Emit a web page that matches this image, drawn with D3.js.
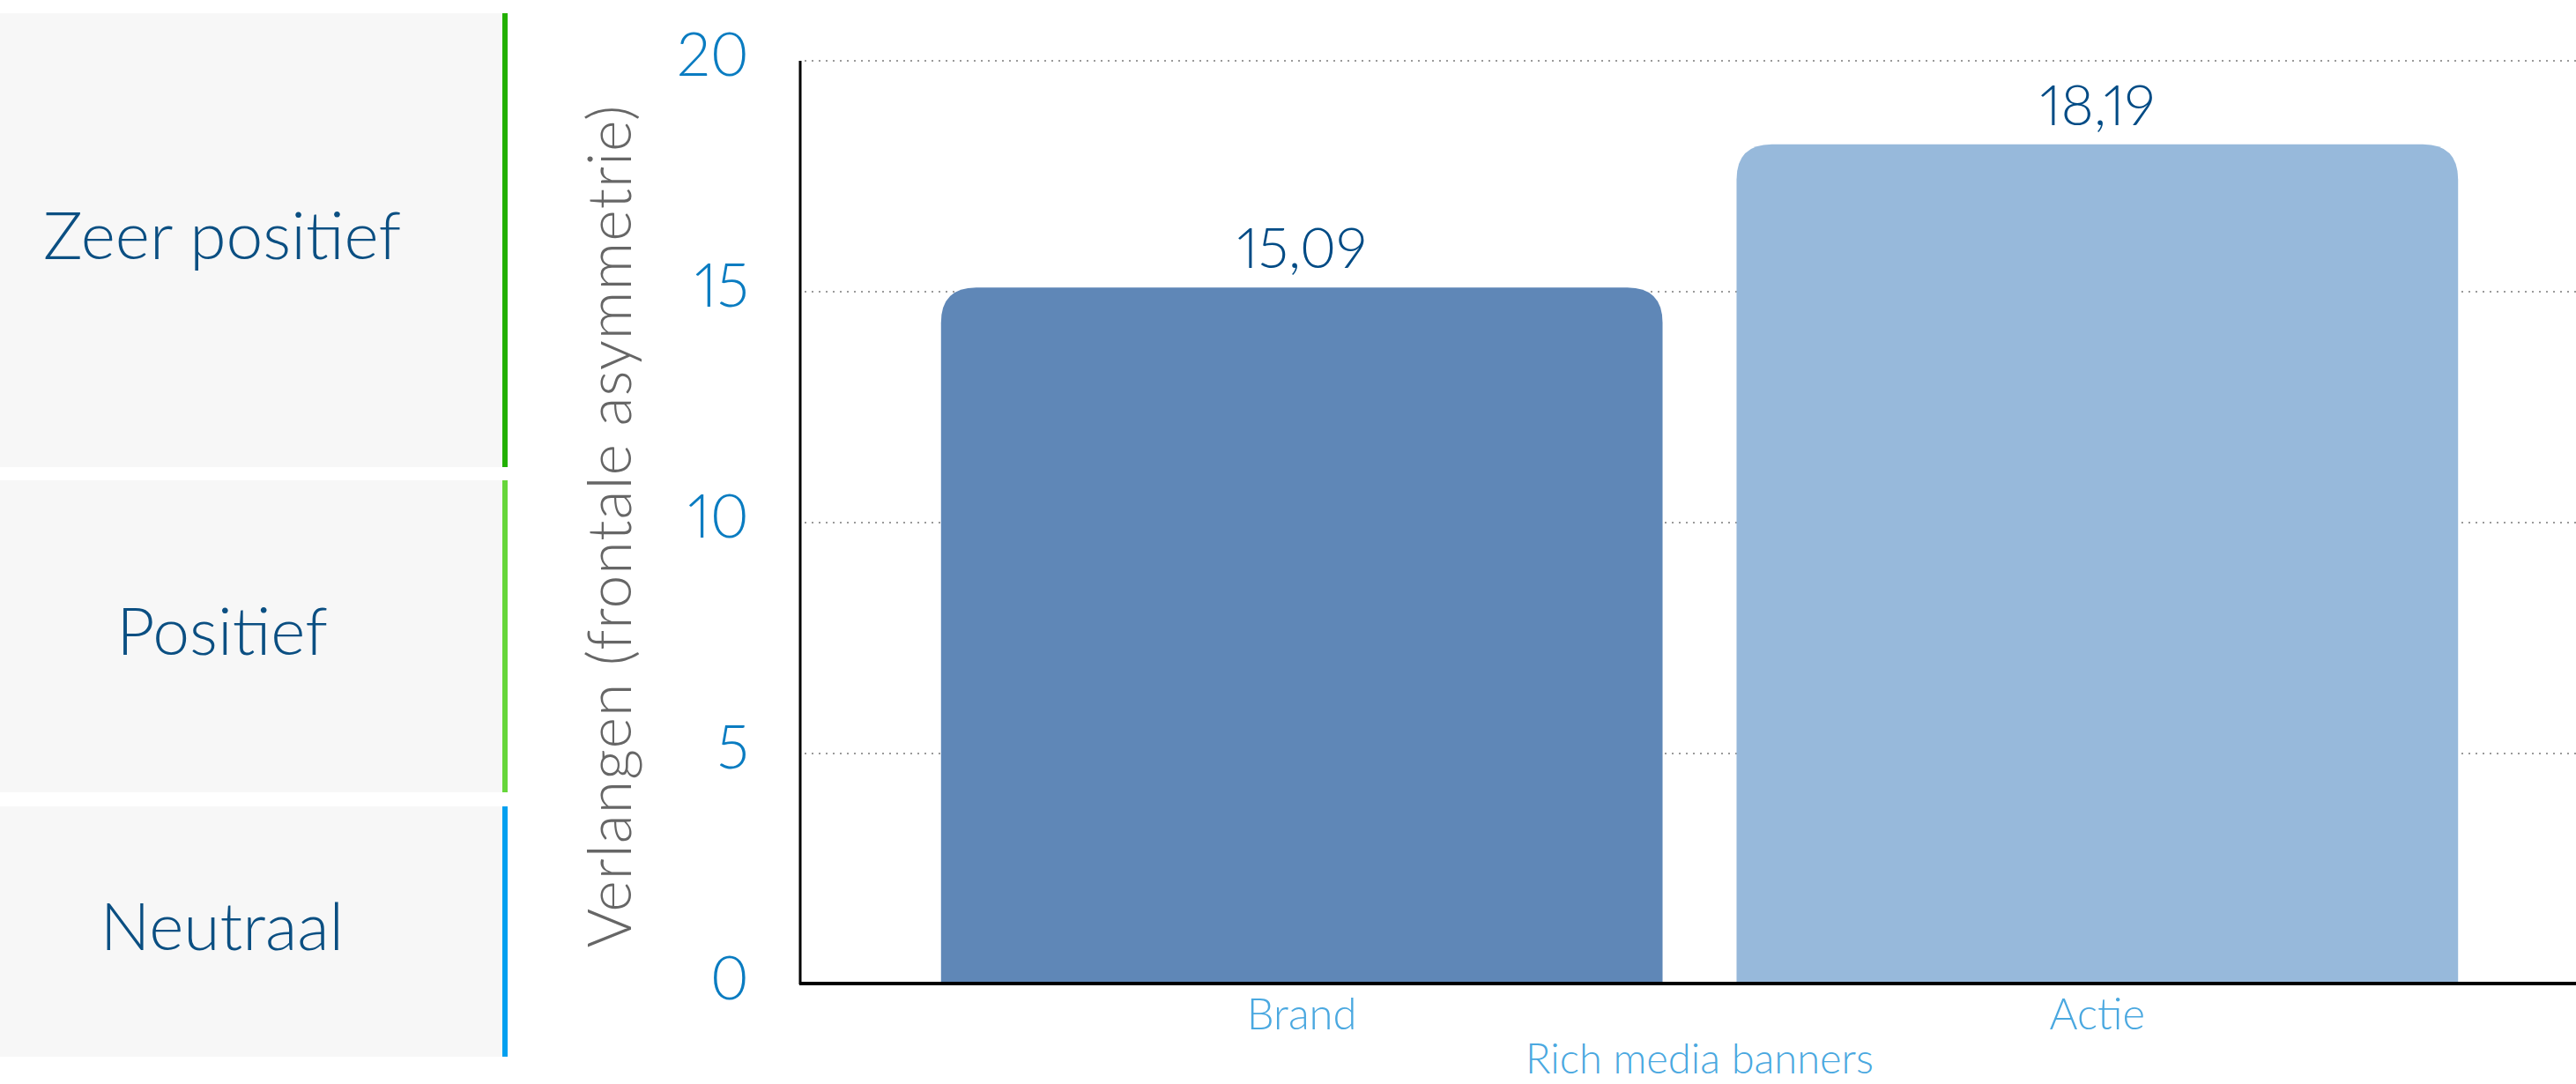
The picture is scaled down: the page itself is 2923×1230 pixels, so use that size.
<!DOCTYPE html>
<html>
<head>
<meta charset="utf-8">
<script src="https://cdn.jsdelivr.net/npm/d3@7"></script>
<style>
  html, body { margin: 0; padding: 0; background: #ffffff; }
  svg { display: block; }
  text { font-family: Lato, "Noto Sans", sans-serif; font-weight: 300; font-variant-numeric: proportional-nums; }
</style>
</head>
<body>
<svg id="chart" width="2923" height="1230"></svg>
<script>
// Data
const categories = ["Brand", "Actie"];
const values = [15.09, 18.19];
const valueLabels = ["15,09", "18,19"];
const yTicks = [0, 5, 10, 15, 20];
const sentimentBands = ["Zeer positief", "Positief", "Neutraal"];

// Layout
const W = 2923, H = 1230;
const plot = { left: 908, right: 2949, top: 69, bottom: 1117 };
const bandBoxes = [[15, 530], [545, 899], [915, 1199]];
const bandLineColors = ["#22b000", "#66d63a", "#00a0f0"];
const barColors = ["#5f87b7", "#97b9db"];

const svg = d3.select("#chart");

// Sentiment panels on the left
const panels = svg.append("g").attr("class", "panels");
sentimentBands.forEach((label, i) => {
  const [y0, y1] = bandBoxes[i];
  panels.append("rect")
    .attr("x", 0).attr("y", y0).attr("width", 570).attr("height", y1 - y0)
    .attr("fill", "#f7f7f7");
  panels.append("rect")
    .attr("x", 570).attr("y", y0).attr("width", 6).attr("height", y1 - y0)
    .attr("fill", bandLineColors[i]);
  panels.append("text")
    .attr("x", 252).attr("y", (y0 + y1) / 2 + 21)
    .attr("text-anchor", "middle")
    .attr("font-size", 75)
    .attr("fill", "#0b4f82")
    .text(label);
});

// Scales
const x = d3.scaleBand()
  .domain(categories)
  .range([plot.left, plot.right])
  .paddingInner(0.093)
  .paddingOuter(0.177);

const y = d3.scaleLinear()
  .domain([0, 20])
  .range([plot.bottom, plot.top]);

// Dotted gridlines
svg.append("g")
  .selectAll("line")
  .data(yTicks)
  .join("line")
  .attr("x1", plot.left + 5).attr("x2", W)
  .attr("y1", d => y(d)).attr("y2", d => y(d))
  .attr("stroke", "#9a9a9a")
  .attr("stroke-width", 2)
  .attr("stroke-dasharray", "2,6");

// Y axis tick labels
const yAxis = d3.axisLeft(y).tickValues(yTicks).tickSize(0).tickPadding(0);
const yg = svg.append("g")
  .attr("transform", `translate(850,0)`)
  .call(yAxis);
yg.select(".domain").remove();
yg.selectAll("text")
  .attr("font-family", "Lato, 'Noto Sans', sans-serif")
  .attr("font-weight", 400)
  .attr("font-size", 68)
  .attr("fill", "#0a7cc1")
  .attr("dy", 16)
  .attr("dominant-baseline", "alphabetic")
  .attr("text-anchor", "end");

// Bars with rounded top corners
const r = 40;
function topRoundedBar(x0, y0, w, h) {
  return `M${x0},${y0 + h}` +
    `L${x0},${y0 + r}` +
    `Q${x0},${y0} ${x0 + r},${y0}` +
    `L${x0 + w - r},${y0}` +
    `Q${x0 + w},${y0} ${x0 + w},${y0 + r}` +
    `L${x0 + w},${y0 + h}Z`;
}

svg.append("g")
  .selectAll("path")
  .data(categories)
  .join("path")
  .attr("d", (c, i) => topRoundedBar(x(c), y(values[i]), x.bandwidth(), y(0) - y(values[i])))
  .attr("fill", (c, i) => barColors[i]);

// Value labels
svg.append("g")
  .selectAll("text")
  .data(categories)
  .join("text")
  .attr("x", c => x(c) + x.bandwidth() / 2)
  .attr("y", (c, i) => y(values[i]) - 22)
  .attr("text-anchor", "middle")
  .attr("font-size", 64)
  .attr("font-weight", 400)
  .attr("fill", "#004b85")
  .text((c, i) => valueLabels[i]);

// Axis lines
svg.append("line")
  .attr("x1", plot.left).attr("x2", plot.left)
  .attr("y1", plot.top).attr("y2", plot.bottom)
  .attr("stroke", "#000").attr("stroke-width", 3);
svg.append("line")
  .attr("x1", plot.left - 1).attr("x2", W)
  .attr("y1", plot.bottom - 1).attr("y2", plot.bottom - 1)
  .attr("stroke", "#000").attr("stroke-width", 4);

// X axis category labels
const xAxis = d3.axisBottom(x).tickSize(0).tickPadding(0);
const xg = svg.append("g")
  .attr("transform", `translate(0,1168)`)
  .call(xAxis);
xg.select(".domain").remove();
xg.selectAll("text")
  .attr("font-family", "Lato, 'Noto Sans', sans-serif")
  .attr("font-size", 49)
  .attr("fill", "#4aa8e0")
  .attr("dy", 0)
  .attr("y", 0);

// Axis titles
svg.append("text")
  .attr("x", (plot.left + plot.right) / 2)
  .attr("y", 1218)
  .attr("text-anchor", "middle")
  .attr("font-size", 47)
  .attr("fill", "#4aa8e0")
  .text("Rich media banners");

svg.append("text")
  .attr("transform", "translate(716,597) rotate(-90)")
  .attr("text-anchor", "middle")
  .attr("font-size", 68)
  .attr("font-weight", 400)
  .attr("letter-spacing", 1)
  .attr("fill", "#666666")
  .text("Verlangen (frontale asymmetrie)");
</script>
</body>
</html>
